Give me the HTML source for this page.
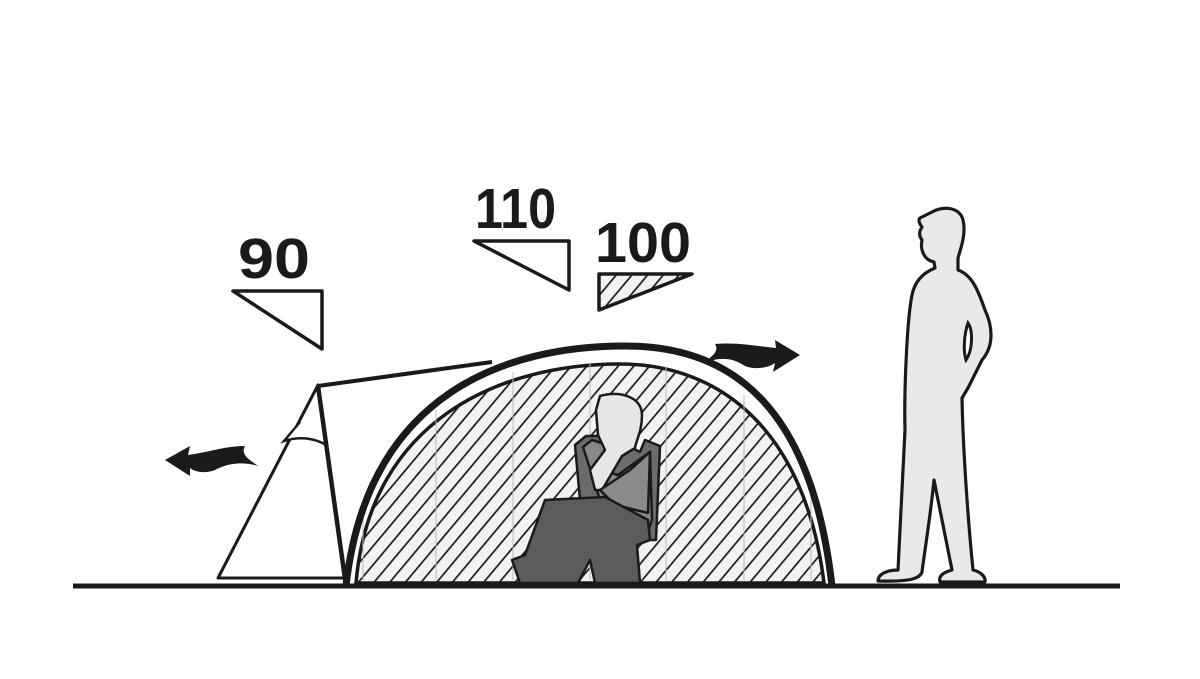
<!DOCTYPE html>
<html><head><meta charset="utf-8"><style>
html,body{margin:0;padding:0;background:#fff;}
svg{display:block;}
text{font-family:"Liberation Sans",sans-serif;font-weight:bold;fill:#1a1a1a;}
</style></head><body>
<svg width="1200" height="679" viewBox="0 0 1200 679" xmlns="http://www.w3.org/2000/svg">
<defs>
<pattern id="h" patternUnits="userSpaceOnUse" width="12" height="12" patternTransform="rotate(40)">
<rect width="12" height="12" fill="#f1f2f2"/>
<line x1="0" y1="0" x2="0" y2="12" stroke="#1a1a1a" stroke-width="3.4"/>
</pattern>
</defs>
<!-- labels -->
<text x="238" y="278" font-size="57" textLength="72" lengthAdjust="spacingAndGlyphs">90</text>
<text x="475" y="228" font-size="57" textLength="81" lengthAdjust="spacingAndGlyphs">110</text>
<text x="595" y="262" font-size="57" textLength="96" lengthAdjust="spacingAndGlyphs">100</text>
<polygon points="233,291 322,291 322,349" fill="#fff" stroke="#1a1a1a" stroke-width="3.5" stroke-linejoin="round"/>
<polygon points="474,241 569,241 569,290" fill="#fff" stroke="#1a1a1a" stroke-width="3.5" stroke-linejoin="round"/>
<polygon points="599,274 692,274 599,310" fill="url(#h)" stroke="#1a1a1a" stroke-width="3.5" stroke-linejoin="round"/>
<!-- inner tent hatched -->
<path d="M356,583 C370,420 500,364 620,364 C720,364 805,430 824,583 Z" fill="url(#h)" stroke="#1a1a1a" stroke-width="3.5"/>
<g stroke="#bbb" stroke-width="1">
<line x1="363" y1="580" x2="363" y2="505"/>
<line x1="436" y1="580" x2="436" y2="410"/>
<line x1="513" y1="580" x2="513" y2="372"/>
<line x1="590" y1="580" x2="590" y2="364"/>
<line x1="666" y1="580" x2="666" y2="367"/>
<line x1="744" y1="580" x2="744" y2="395"/>
<line x1="811" y1="580" x2="811" y2="490"/>
</g>
<!-- vestibule -->
<polygon points="218,578 318,385 345,578" fill="#fff" stroke="#1a1a1a" stroke-width="3" stroke-linejoin="round"/>
<path d="M300,422 L284,441 C300,436 315,438 328,446" fill="#fff" stroke="#1a1a1a" stroke-width="2.5"/>
<line x1="318" y1="386" x2="492" y2="362" stroke="#1a1a1a" stroke-width="4"/>
<line x1="318" y1="386" x2="346" y2="586" stroke="#1a1a1a" stroke-width="4.5"/>
<!-- outer dome -->
<path d="M346,586 C368,390 510,346 625,346 C735,346 812,410 832,586" fill="none" stroke="#1a1a1a" stroke-width="7"/>
<!-- sitting person -->
<g stroke="#1a1a1a" stroke-width="2.5" stroke-linejoin="round">
<path d="M575,445 L586,436 L608,436 L640,452 L645,440 L660,446 L656,540 L645,540 L630,525 L580,500 Z" fill="#6b6b6b"/>
<path d="M583,447 L592,440 L608,445 L600,470 L618,475 L650,452 L652,520 L645,540 L600,500 Z" fill="#888"/>
<path d="M600,396 C622,390 642,398 642,415 C642,432 636,440 635,448 L622,456 L602,490 L595,490 L590,470 L605,450 L598,435 L596,410 Z" fill="#e5e7e7"/>
<path d="M600,490 L630,470 L650,452 L648,513 L615,505 Z" fill="#8a8a8a"/>
<path d="M545,500 L605,497 L648,520 L650,540 L637,545 L640,583 L595,583 L590,560 L578,583 L520,583 L512,560 L525,555 Z" fill="#5c5c5c"/>
</g>
<!-- arrows -->
<path d="M165,460 L190,446 L188,455 C210,452 225,446 245,446 C240,455 250,460 258,466 C245,462 230,462 215,470 C205,474 195,472 190,468 L190,476 Z" fill="#1a1a1a"/>
<path d="M800,355 L775,340 L776,348 C755,346 738,342 715,344 C720,352 710,358 703,363 C718,358 730,356 745,366 C755,370 768,368 775,363 L773,372 Z" fill="#1a1a1a"/>
<!-- standing person -->
<path d="M932,212 C945,205 960,208 963,220 C966,232 962,245 958,258 L958,270 C972,275 978,290 985,310 C992,325 995,345 982,360 L968,388 L962,398 C963,450 968,520 973,570 C982,572 986,578 985,582 L940,582 C938,575 945,572 952,570 L934,480 C930,520 924,555 922,572 C920,578 912,582 878,581 C878,575 885,570 898,570 L905,430 C904,390 907,320 912,295 C915,280 925,272 935,268 L934,262 C924,260 920,250 922,240 C918,235 920,230 922,227 C918,222 918,218 922,217 Z" fill="#e8eaea" stroke="#1a1a1a" stroke-width="3.2" stroke-linejoin="round"/>
<path d="M968,323 C973,330 973,350 966,360 C963,350 964,335 968,323 Z" fill="#fff" stroke="#1a1a1a" stroke-width="3"/>
<!-- ground -->
<line x1="73" y1="586" x2="1120" y2="586" stroke="#1a1a1a" stroke-width="5"/>
</svg>
</body></html>
